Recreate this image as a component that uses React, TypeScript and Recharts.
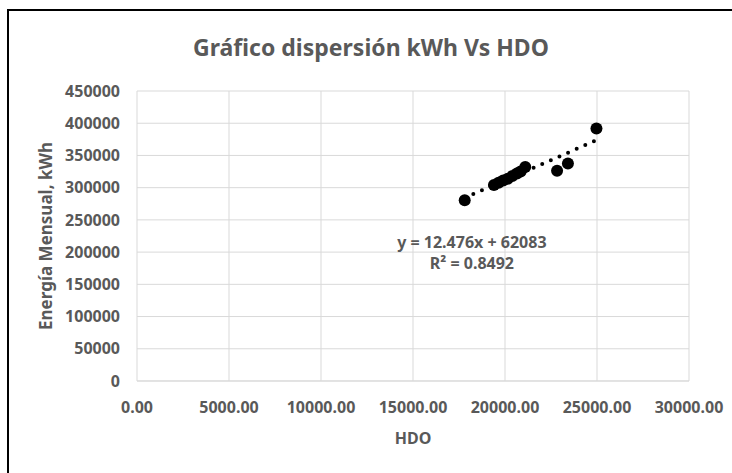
import { CartesianGrid, Label, ReferenceDot, ReferenceLine, Scatter, ScatterChart, XAxis, YAxis } from 'recharts';

const hdo = [17810, 19400, 19650, 19900, 20150, 20400, 20650, 20850, 21100, 22830, 23420, 24970];
const kwh = [280600, 304000, 307500, 311000, 314000, 318000, 322000, 325000, 332000, 326100, 337600, 391900];
const xTicks = [0, 5000, 10000, 15000, 20000, 25000, 30000];
const yTicks = [0, 50000, 100000, 150000, 200000, 250000, 300000, 350000, 400000, 450000];

const slope = 12.476;
const intercept = 62083;
const eqLines = ['y = 12.476x + 62083', 'R² = 0.8492'];
const eqAnchor = { x: 18200, y: 215000 };

const GRAY = '#595959';
const FONT = '"Noto Sans", sans-serif';

export default function App() {
  const data = hdo.map((x, i) => ({ x, y: kwh[i] }));
  const xMin = Math.min(...hdo);
  const xMax = Math.max(...hdo);
  const tick = { fill: GRAY, fontSize: 16, fontWeight: 700, fontFamily: FONT };

  return (
    <div style={{ position: 'fixed', left: 0, top: 0, width: 732, height: 473, background: '#fff', overflow: 'hidden' }}>
      <div
        style={{
          position: 'absolute',
          left: 7,
          top: 9,
          width: 900,
          height: 700,
          borderLeft: '2px solid #000',
          borderTop: '2px solid #000',
        }}
      />
      <div
        style={{
          position: 'absolute',
          left: 5,
          width: 732,
          top: 31,
          textAlign: 'center',
          fontFamily: FONT,
          fontSize: 23,
          fontWeight: 700,
          color: GRAY,
          lineHeight: '32px',
        }}
      >
        Gráfico dispersión kWh Vs HDO
      </div>
      <div style={{ position: 'absolute', left: 0, top: 0 }}>
        <ScatterChart width={732} height={473} margin={{ top: 91, right: 43, bottom: 32, left: 67 }}>
          <CartesianGrid stroke="#d9d9d9" />
          <XAxis
            type="number"
            dataKey="x"
            domain={[0, 30000]}
            ticks={xTicks}
            tickFormatter={(v: number) => v.toFixed(2)}
            tick={tick}
            tickLine={false}
            tickSize={0}
            tickMargin={21}
            axisLine={{ stroke: '#d9d9d9' }}
            height={60}
            interval={0}
          >
            <Label
              value="HDO"
              position="insideBottom"
              offset={-3}
              style={{ fill: GRAY, fontSize: 16, fontWeight: 700, fontFamily: FONT }}
            />
          </XAxis>
          <YAxis
            type="number"
            dataKey="y"
            domain={[0, 450000]}
            ticks={yTicks}
            tick={tick}
            tickLine={false}
            tickSize={0}
            tickMargin={17}
            axisLine={false}
            width={70}
            interval={0}
          >
            <Label
              content={(props: any) => {
                const vb = props.viewBox;
                const cx = vb.x - 22;
                const cy = vb.y + vb.height / 2;
                return (
                  <text
                    x={cx}
                    y={cy}
                    transform={`rotate(-90, ${cx}, ${cy})`}
                    textAnchor="middle"
                    dominantBaseline="central"
                    fill={GRAY}
                    fontSize={17}
                    fontWeight={700}
                    fontFamily={FONT}
                  >
                    Energía Mensual, kWh
                  </text>
                );
              }}
            />
          </YAxis>
          <ReferenceLine
            segment={[
              { x: xMin, y: slope * xMin + intercept },
              { x: xMax, y: slope * xMax + intercept },
            ]}
            stroke="#000"
            strokeWidth={4}
            strokeDasharray="0 9.4"
            strokeLinecap="round"
          />
          <Scatter
            data={data}
            fill="#000"
            isAnimationActive={false}
            shape={(p: any) => <circle cx={p.cx} cy={p.cy} r={6} fill="#000" />}
          />
          <ReferenceDot
            x={eqAnchor.x}
            y={eqAnchor.y}
            r={0}
            stroke="none"
            fill="none"
            label={(props: any) => {
              const vb = props.viewBox;
              const cx = vb.x + (vb.width || 0) / 2;
              const cy = vb.y + (vb.height || 0) / 2;
              return (
                <text textAnchor="middle" fill={GRAY} fontSize={16} fontWeight={700} fontFamily={FONT}>
                  {eqLines.map((t, i) => (
                    <tspan key={t} x={cx} y={cy + 6 + i * 21}>
                      {t}
                    </tspan>
                  ))}
                </text>
              );
            }}
          />
        </ScatterChart>
      </div>
    </div>
  );
}
